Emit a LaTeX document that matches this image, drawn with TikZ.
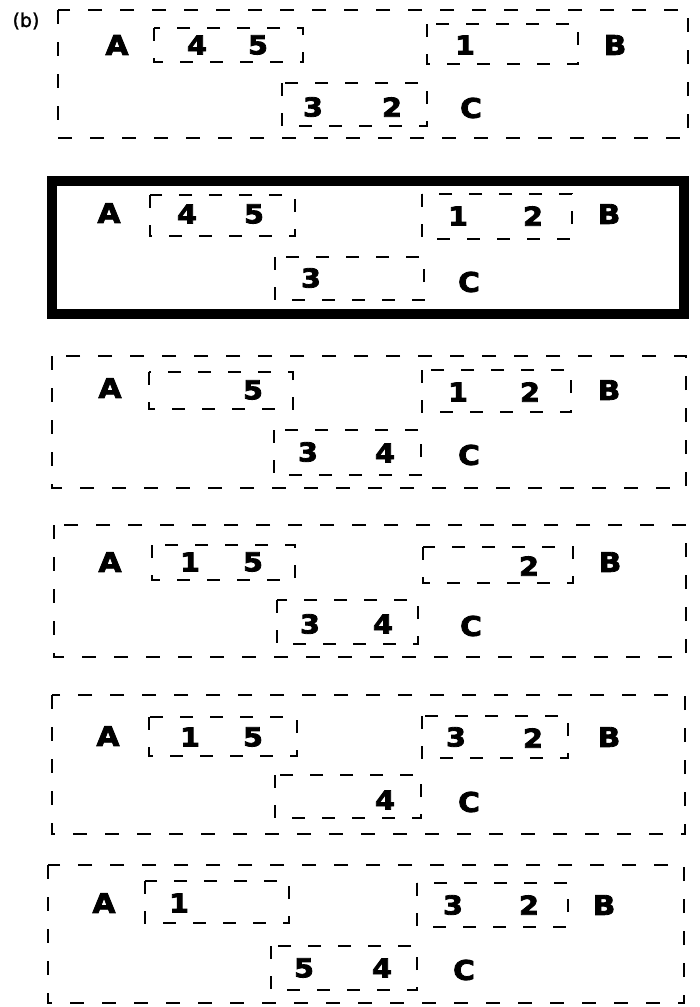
\documentclass[tikz,border=0pt]{standalone}
\usepackage{fontspec}
\newfontfamily\labelfont[FakeBold=3,FakeStretch=1.1]{DejaVu Sans}
\newfontfamily\tagfont[FakeBold=1.5]{DejaVu Sans}
\usetikzlibrary{positioning}
\tikzset{every node/.style={inner sep=0pt},
 outerbox/.style={draw=black,line width=1.8pt,dash pattern=on 14pt off 18pt},
 grpbox/.style={draw=black,line width=1.8pt,dash pattern=on 13pt off 17pt},
 chosen/.style={draw=black,line width=10pt},
 site/.style={font=\labelfont\bfseries\fontsize{27}{27}\selectfont},
 item/.style={font=\labelfont\bfseries\fontsize{26}{26}\selectfont}}

\begin{document}
\begin{tikzpicture}[x=1pt,y=-1pt]
\useasboundingbox (0,0) rectangle (700,1007);
\node[font=\tagfont\fontsize{19}{19}\selectfont] (tag) at (26,21) {(b)};
% 1
\draw[outerbox] (58,10) rectangle (688,138);
\draw[grpbox] (154,28) rectangle (303,62);
\draw[grpbox] (427,24) rectangle (578,64);
\draw[grpbox] (282,83) rectangle (427,126);
\node[site] (A1) at (117,45) {A};\node[site] (B1) at (615,45) {B};\node[site] (C1) at (471,108) {C};
\node[item] (p14) at (197,45) {4};\node[item] (p15) at (258,45) {5};
\node[item] (p11) at (465,45) {1};
\node[item] (p13) at (313,107) {3};\node[item] (p12) at (392,107) {2};
% 2
\draw[chosen] (52,181) rectangle (684,314);
\draw[grpbox] (150,195) rectangle (295,236);
\draw[grpbox] (422,194) rectangle (572,239);
\draw[grpbox] (275,257) rectangle (424,300);
\node[site] (A2) at (109,213) {A};\node[site] (B2) at (609,214) {B};\node[site] (C2) at (469,282) {C};
\node[item] (p24) at (187,214) {4};\node[item] (p25) at (254,214) {5};
\node[item] (p21) at (458,216) {1};\node[item] (p22) at (533,216) {2};
\node[item] (p23) at (311,278) {3};
% 3
\draw[outerbox] (52,356) rectangle (686,488);
\draw[grpbox] (149,372) rectangle (293,409);
\draw[grpbox] (422,370) rectangle (571,412);
\draw[grpbox] (274,430) rectangle (421,475);
\node[site] (A3) at (110,388) {A};\node[site] (B3) at (609,390) {B};\node[site] (C3) at (469,455) {C};
\node[item] (p35) at (253,390) {5};
\node[item] (p31) at (458,392) {1};\node[item] (p32) at (530,392) {2};
\node[item] (p33) at (308,452) {3};\node[item] (p34) at (385,453) {4};
% 4
\draw[outerbox] (54,525) rectangle (686,657);
\draw[grpbox] (152,545) rectangle (295,580);
\draw[grpbox] (423,547) rectangle (573,583);
\draw[grpbox] (277,600) rectangle (418,644);
\node[site] (A4) at (110,562) {A};\node[site] (B4) at (610,562) {B};\node[site] (C4) at (471,626) {C};
\node[item] (p41) at (190,562) {1};\node[item] (p45) at (253,562) {5};
\node[item] (p42) at (529,566) {2};
\node[item] (p43) at (310,624) {3};\node[item] (p44) at (383,624) {4};
% 5
\draw[outerbox] (52,695) rectangle (685,834);
\draw[grpbox] (149,717) rectangle (297,756);
\draw[grpbox] (422,716) rectangle (568,758);
\draw[grpbox] (275,775) rectangle (421,818);
\node[site] (A5) at (108,736) {A};\node[site] (B5) at (609,737) {B};\node[site] (C5) at (469,802) {C};
\node[item] (p51) at (190,737) {1};\node[item] (p55) at (253,737) {5};
\node[item] (p53) at (456,737) {3};\node[item] (p52) at (533,738) {2};
\node[item] (p54) at (385,800) {4};
% 6
\draw[outerbox] (48,865) rectangle (684,1003);
\draw[grpbox] (145,881) rectangle (289,923);
\draw[grpbox] (417,883) rectangle (568,927);
\draw[grpbox] (271,946) rectangle (417,990);
\node[site] (A6) at (104,903) {A};\node[site] (B6) at (604,905) {B};\node[site] (C6) at (464,970) {C};
\node[item] (p61) at (179,903) {1};
\node[item] (p63) at (453,905) {3};\node[item] (p62) at (529,905) {2};
\node[item] (p65) at (304,968) {5};\node[item] (p64) at (382,968) {4};
\end{tikzpicture}
\end{document}
